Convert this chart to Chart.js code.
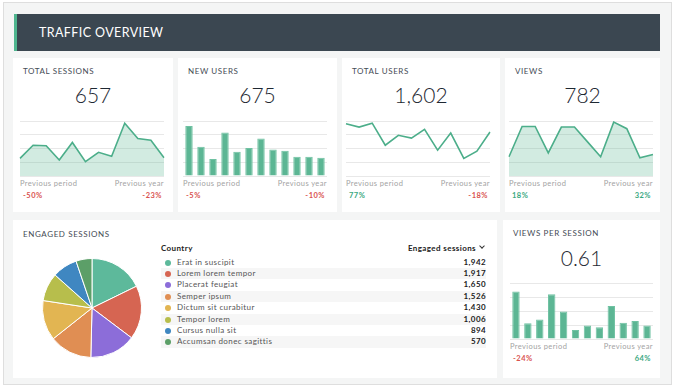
<!DOCTYPE html>
<html>
<head>
<meta charset="utf-8">
<script src="https://cdn.jsdelivr.net/npm/chart.js@4.4.1/dist/chart.umd.min.js"></script>
<style>
  body { margin: 0; width: 675px; height: 388px; background: #fff; font-family: "Lato", sans-serif; overflow: hidden; position: relative; }
  .frame { position: absolute; left: 3px; top: 2px; width: 669px; height: 383px; background: #f4f5f5; border: 1px solid #dedede; box-sizing: border-box; }
  .header { position: absolute; left: 14px; top: 14px; width: 646px; height: 37px; background: #3b4751; border-left: 3px solid #4fb68f; box-sizing: border-box; }
  .header span { position: absolute; left: 22px; top: 11px; color: #fff; font-size: 12.5px; letter-spacing: 0.4px; }
  .card { position: absolute; background: #fff; }
  .abs { position: absolute; white-space: nowrap; }
  .ttl { font-size: 8px; color: #454c55; letter-spacing: 0.6px; }
  .big { font-size: 21px; color: #1e2832; text-align: center; font-weight: 300; }
  .sub { font-size: 7.5px; color: #a3a3a3; letter-spacing: 0.4px; }
  .pct { font-size: 7.5px; font-weight: bold; letter-spacing: 0.5px; }
  .neg { color: #d9534f; }
  .pos { color: #3aa87f; }
  .box { position: absolute; }
  .row { position: absolute; left: 161px; width: 325px; height: 11.4px; font-size: 8px; color: #555; letter-spacing: 0.4px; }
  .row.alt { background: #f6f6f6; }
  .row .dot { position: absolute; left: 4px; top: 3px; width: 6px; height: 6px; border-radius: 50%; }
  .row .name { position: absolute; left: 16px; top: 0; line-height: 11.4px; }
  .row .num { position: absolute; right: 0; top: 0; line-height: 11.4px; font-weight: bold; color: #222; }
  .th { font-size: 8px; font-weight: bold; color: #222; letter-spacing: 0.4px; }
  .chev { position: absolute; left: 480px; top: 244px; width: 3px; height: 3px; border-right: 1px solid #333; border-bottom: 1px solid #333; transform: rotate(45deg); }
</style>
</head>
<body>
<div class="frame"></div>
<div class="header"><span>TRAFFIC OVERVIEW</span></div>
<div id="root"></div>
<script>
// values, in grid units (grid lines at 0/25/50/75/100)
const periods = ['1', '2', '3', '4', '5', '6', '7', '8', '9', '10', '11', '12'];
const sessionsData = [32, 56, 55, 29, 61, 26, 43, 36, 96, 68, 65, 33];
const newUsersData = [91, 53, 31, 79, 44, 51, 68, 48, 46, 35, 35, 33];
const totalUsersData = [95, 89, 96, 56, 74, 69, 85, 47, 78, 32, 45, 80];
const viewsData = [35, 90, 90, 42, 89, 89, 62, 35, 98, 86, 33, 39];
const viewsPerSessionData = [85, 28, 35, 80, 49, 16, 24, 21, 59, 29, 32, 24];

const countries = ['Erat in suscipit', 'Lorem lorem tempor', 'Placerat feugiat', 'Semper ipsum',
  'Dictum sit curabitur', 'Tempor lorem', 'Cursus nulla sit', 'Accumsan donec sagittis'];
const engagedSessions = [1942, 1917, 1650, 1526, 1430, 1006, 894, 570];
const countryColors = ['#5db99b', '#d66552', '#8c6dd9', '#e08e53', '#e2b552', '#b7be4c', '#3f87c1', '#5c9f68'];

const green = '#4cae8a';
const root = document.getElementById('root');

function el(cls, text, style) {
  const d = document.createElement('div');
  d.className = cls;
  if (text != null) d.textContent = text;
  Object.assign(d.style, style);
  root.appendChild(d);
  return d;
}

// small KPI cards
const cards = [
  {x: 13, y: 58, w: 160, h: 154, title: 'TOTAL SESSIONS', value: '657', prev: '-50%', year: '-23%', kind: 'area', data: sessionsData, area: [20, 121, 164, 176]},
  {x: 178, y: 58, w: 159, h: 154, title: 'NEW USERS', value: '675', prev: '-5%', year: '-10%', kind: 'bar', data: newUsersData, area: [183, 121, 327, 176]},
  {x: 342, y: 58, w: 158, h: 154, title: 'TOTAL USERS', value: '1,602', prev: '77%', year: '-18%', kind: 'line', data: totalUsersData, area: [346, 121, 490, 176]},
  {x: 505, y: 58, w: 155, h: 154, title: 'VIEWS', value: '782', prev: '18%', year: '32%', kind: 'area', data: viewsData, area: [509, 121, 653, 176]},
  {x: 503, y: 220, w: 157, h: 158, title: 'VIEWS PER SESSION', value: '0.61', prev: '-24%', year: '64%', kind: 'bar', data: viewsPerSessionData, area: [510, 283, 653, 339]}
];

cards.forEach(c => {
  el('card', null, {left: c.x + 'px', top: c.y + 'px', width: c.w + 'px', height: c.h + 'px'});
  el('abs ttl', c.title, {left: (c.x + 10) + 'px', top: (c.y + 8) + 'px'});
  el('abs big', c.value, {left: c.x + 'px', width: c.w + 'px', top: (c.y + (c.y > 100 ? 25 : 24)) + 'px'});
  const [x0, y0, x1, y1] = c.area;
  el('abs sub', 'Previous period', {left: x0 + 'px', top: (y1 + 3) + 'px'});
  el('abs sub', 'Previous year', {left: (x1 - 80) + 'px', width: '80px', textAlign: 'right', top: (y1 + 3) + 'px'});
  el('abs pct ' + (c.prev[0] === '-' ? 'neg' : 'pos'), c.prev, {left: (x0 + 3) + 'px', top: (y1 + 15) + 'px'});
  el('abs pct ' + (c.year[0] === '-' ? 'neg' : 'pos'), c.year, {left: (x1 - 82) + 'px', width: '80px', textAlign: 'right', top: (y1 + 15) + 'px'});

  const pad = 3;
  const box = el('box', null, {left: (x0 - pad) + 'px', top: (y0 - pad) + 'px', width: (x1 - x0 + 2 * pad) + 'px', height: (y1 - y0 + 2 * pad) + 'px'});
  const cv = document.createElement('canvas');
  box.appendChild(cv);
  const isBar = c.kind === 'bar';
  new Chart(cv, {
    type: isBar ? 'bar' : 'line',
    data: {
      labels: periods,
      datasets: [{
        data: c.data,
        borderColor: isBar ? '#6fc2a2' : green,
        backgroundColor: isBar ? '#5cb694' : 'rgba(92,182,148,0.28)',
        borderWidth: isBar ? 1 : 1.6,
        fill: c.kind === 'area' ? 'origin' : false,
        tension: 0,
        pointRadius: 0,
        barPercentage: 0.62,
        categoryPercentage: 1
      }]
    },
    options: {
      responsive: true,
      maintainAspectRatio: false,
      animation: false,
      layout: {padding: pad},
      plugins: {legend: {display: false}, tooltip: {enabled: false}},
      scales: {
        x: {display: false, offset: isBar},
        y: {
          min: 0, max: 100,
          ticks: {display: false, stepSize: 25},
          border: {display: false},
          grid: {color: '#e8e8e8', drawTicks: false, lineWidth: 1}
        }
      }
    }
  });
});

// engaged sessions card
el('card', null, {left: '13px', top: '220px', width: '484px', height: '158px'});
el('abs ttl', 'ENGAGED SESSIONS', {left: '23px', top: '229px'});
el('abs th', 'Country', {left: '161px', top: '243px'});
el('abs th', 'Engaged sessions', {left: '376px', width: '100px', textAlign: 'right', top: '243px'});
el('chev', null, {});

countries.forEach((name, i) => {
  const r = el('row' + (i % 2 ? ' alt' : ''), null, {top: (256.5 + i * 11.4) + 'px'});
  const dot = document.createElement('div');
  dot.className = 'dot';
  dot.style.background = countryColors[i];
  r.appendChild(dot);
  const n = document.createElement('div');
  n.className = 'name';
  n.textContent = name;
  r.appendChild(n);
  const v = document.createElement('div');
  v.className = 'num';
  v.textContent = engagedSessions[i].toLocaleString('en-US');
  r.appendChild(v);
});

const pieBox = el('box', null, {left: '40px', top: '256px', width: '104px', height: '104px'});
const pieCv = document.createElement('canvas');
pieBox.appendChild(pieCv);
new Chart(pieCv, {
  type: 'pie',
  data: {
    labels: countries,
    datasets: [{data: engagedSessions, backgroundColor: countryColors, borderColor: '#fff', borderWidth: 1}]
  },
  options: {
    responsive: true,
    maintainAspectRatio: false,
    animation: false,
    layout: {padding: 2},
    plugins: {legend: {display: false}, tooltip: {enabled: false}}
  }
});
</script>
</body>
</html>
